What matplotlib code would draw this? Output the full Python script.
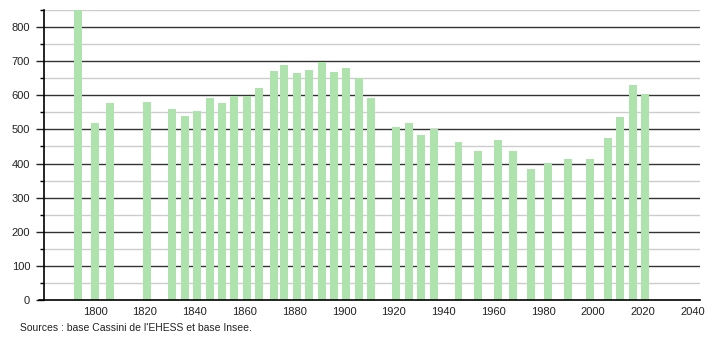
import matplotlib
matplotlib.use("Agg")
import matplotlib.pyplot as plt
from matplotlib.ticker import MultipleLocator

plt.rcParams['font.family'] = ['Liberation Sans', 'DejaVu Sans']

years = [1793, 1800, 1806, 1821, 1831, 1836, 1841, 1846, 1851, 1856, 1861, 1866,
         1872, 1876, 1881, 1886, 1891, 1896, 1901, 1906, 1911, 1921, 1926, 1931,
         1936, 1946, 1954, 1962, 1968, 1975, 1982, 1990, 1999, 2006, 2011, 2016, 2021]
population = [852, 520, 576, 581, 559, 539, 554, 591, 578, 598, 598, 620,
              671, 688, 664, 673, 699, 669, 681, 650, 593, 508, 520, 485,
              500, 464, 436, 468, 436, 384, 402, 414, 414, 475, 537, 630, 605]
x_ticks = [1800, 1820, 1840, 1860, 1880, 1900, 1920, 1940, 1960, 1980, 2000, 2020, 2040]
y_ticks = [0, 100, 200, 300, 400, 500, 600, 700, 800]
source_text = "Sources : base Cassini de l'EHESS et base Insee."

fig = plt.figure(figsize=(7.1, 3.4), dpi=100)
ax = fig.add_axes([44/710, 40/340, 656/710, 290/340])

ax.set_xlim(1779.5, 2043)
ax.set_ylim(0, 850)

# gridlines
for v in range(50, 851, 100):
    ax.axhline(v, color='#cccccc', lw=1, zorder=1)
for v in y_ticks[1:]:
    ax.axhline(v, color='#333333', lw=1, zorder=1)

ax.bar(years, population, width=3.2, color='#aee3ae', zorder=2, linewidth=0)

ax.set_xticks(x_ticks)
ax.set_xticklabels([str(t) for t in x_ticks])
ax.set_yticks(y_ticks)
ax.yaxis.set_minor_locator(MultipleLocator(50))
ax.tick_params(axis='x', length=0, labelsize=8, pad=5, colors='#222222')
ax.tick_params(axis='y', which='major', length=6, width=1, labelsize=8, pad=4, colors='#222222')
ax.tick_params(axis='y', which='minor', length=3, width=1)

for s in ['top', 'right']:
    ax.spines[s].set_visible(False)
ax.spines['left'].set_color('black')
ax.spines['bottom'].set_color('black')
ax.spines['bottom'].set_bounds(1777.5, 2043)
ax.spines['left'].set_linewidth(1.2)
ax.spines['bottom'].set_linewidth(1.2)

fig.text(20/710, 1 - 328/340, source_text, fontsize=7.5, color='#222222', va='center', ha='left')

fig.savefig("out.png", dpi=100)
